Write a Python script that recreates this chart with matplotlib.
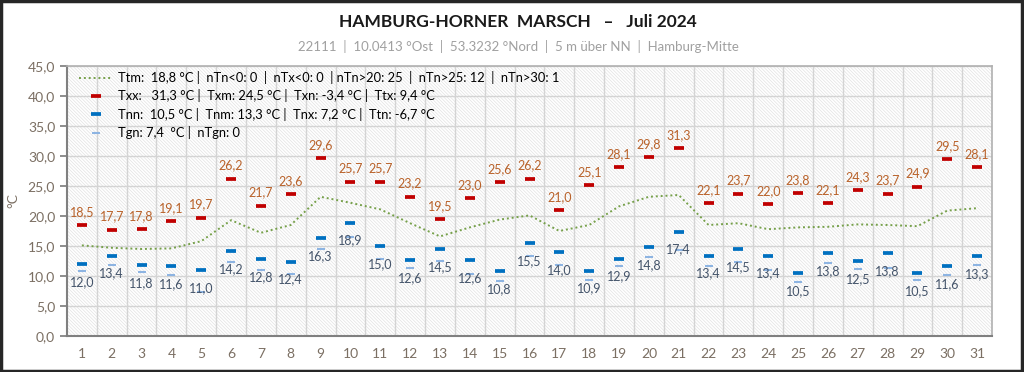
import matplotlib.pyplot as plt
from matplotlib.patches import Rectangle
from matplotlib.lines import Line2D

plt.rcParams["font.family"] = ["Lato", "DejaVu Sans"]
plt.rcParams["hatch.color"] = "#e2e2e2"
plt.rcParams["hatch.linewidth"] = 0.5

days = list(range(1, 32))
tx = [18.5, 17.7, 17.8, 19.1, 19.7, 26.2, 21.7, 23.6, 29.6, 25.7, 25.7, 23.2, 19.5, 23.0, 25.6, 26.2,
      21.0, 25.1, 28.1, 29.8, 31.3, 22.1, 23.7, 22.0, 23.8, 22.1, 24.3, 23.7, 24.9, 29.5, 28.1]
tn = [12.0, 13.4, 11.8, 11.6, 11.0, 14.2, 12.8, 12.4, 16.3, 18.9, 15.0, 12.6, 14.5, 12.6, 10.8, 15.5,
      14.0, 10.9, 12.9, 14.8, 17.4, 13.4, 14.5, 13.4, 10.5, 13.8, 12.5, 13.8, 10.5, 11.6, 13.3]
tgn = [10.8, 11.8, 10.7, 10.1, 7.4, 12.4, 11.0, 10.4, 14.5, 16.5, 12.8, 11.3, 12.5, 10.4, 9.2, 13.3,
       11.8, 9.4, 11.7, 13.2, 14.3, 11.7, 12.4, 11.0, 9.0, 12.2, 11.2, 11.4, 9.3, 10.2, 11.8]
tm = [15.1, 14.7, 14.5, 14.6, 15.8, 19.3, 17.2, 18.5, 23.2, 22.2, 21.1, 18.8, 16.6, 18.1, 19.4, 20.1,
      17.5, 18.5, 21.6, 23.2, 23.5, 18.5, 18.8, 17.8, 18.1, 18.2, 18.6, 18.5, 18.3, 20.9, 21.3]
yticks = [0, 5, 10, 15, 20, 25, 30, 35, 40, 45]

legend_labels = [
    "Ttm:  18,8 °C |  nTn<0: 0  |  nTx<0: 0  | nTn>20: 25  |  nTn>25: 12  |  nTn>30: 1",
    "Txx:   31,3 °C |  Txm: 24,5 °C |  Txn: -3,4 °C |  Ttx: 9,4 °C",
    "Tnn:  10,5 °C |  Tnm: 13,3 °C |  Tnx: 7,2 °C |  Ttn: -6,7 °C",
    "Tgn: 7,4  °C |  nTgn: 0",
]

fig = plt.figure(figsize=(10.24, 3.72), dpi=100)
ax = fig.add_axes([0.0654, 0.0968, 0.9034, 0.7258])

# hatched background
ax.add_patch(Rectangle((0, 0), 1, 1, transform=ax.transAxes, facecolor="white",
                       hatch="\\" * 10, edgecolor="#e2e2e2", lw=0, zorder=0))

ax.set_xlim(0.5, 31.5)
ax.set_ylim(0, 45)
ax.set_yticks(yticks)
ax.set_yticklabels([f"{v:.1f}".replace(".", ",") for v in yticks])
ax.set_xticks(days)
ax.set_xticks([d + 0.5 for d in days[:-1]], minor=True)
ax.grid(True, axis="y", color="#d4d4d4", lw=1, zorder=1)
ax.grid(True, axis="x", which="minor", color="#d4d4d4", lw=1, zorder=1)
ax.tick_params(axis="y", colors="#7a7a7a", labelcolor="#7b6f63", labelsize=10, length=5, width=1.2)
ax.tick_params(axis="x", which="both", length=0, labelcolor="#7b6f63", labelsize=10, pad=9)
for s in ("left", "bottom"):
    ax.spines[s].set_color("#808080")
    ax.spines[s].set_linewidth(1.5)
for s in ("top", "right"):
    ax.spines[s].set_color("#b0b0b0")
    ax.spines[s].set_linewidth(1.2)
ax.set_ylabel("°C", color="#7b6f63", fontsize=10, labelpad=6)

ax.plot(days, tm, ls=(0, (1, 1.5)), color="#76a04a", lw=1.4, zorder=3)
ax.plot(days, tgn, ls="none", marker="_", ms=5.5, mew=1.5, color="#8db4e2", zorder=4)
ax.plot(days, tn, ls="none", marker="_", ms=6.5, mew=2.7, color="#0070c0", zorder=5)
ax.plot(days, tx, ls="none", marker="_", ms=6.5, mew=2.7, color="#c00000", zorder=5)

for d, v in zip(days, tx):
    ax.annotate(f"{v:.1f}".replace(".", ","), (d, v), xytext=(0, 9.5), textcoords="offset points",
                ha="center", va="center", fontsize=9, color="#b9622a", zorder=6)
for d, v in zip(days, tn):
    ax.annotate(f"{v:.1f}".replace(".", ","), (d, v), xytext=(0, -13), textcoords="offset points",
                ha="center", va="center", fontsize=9, color="#44546a", zorder=6)

handles = [
    Line2D([], [], ls=(0, (1, 1.5)), color="#76a04a", lw=1.4),
    Line2D([], [], ls="none", marker="_", ms=6.5, mew=2.7, color="#c00000"),
    Line2D([], [], ls="none", marker="_", ms=6.5, mew=2.7, color="#0070c0"),
    Line2D([], [], ls="none", marker="_", ms=5.5, mew=1.5, color="#8db4e2"),
]
ax.legend(handles, legend_labels, loc="upper left", bbox_to_anchor=(0.005, 1.01), frameon=False,
          fontsize=9.3, handlelength=2.6, handletextpad=0.4, labelspacing=0.42, borderaxespad=0.2)

fig.text(0.506, 0.941, "HAMBURG-HORNER  MARSCH   –   Juli 2024", ha="center", va="center",
         fontsize=12.5, fontweight="bold", color="#1a1a1a")
fig.text(0.506, 0.876, "22111  |  10.0413 °Ost  |  53.3232 °Nord  |  5 m über NN  |  Hamburg-Mitte",
         ha="center", va="center", fontsize=9.5, color="#a0a0a0")

fig.add_artist(Rectangle((0.001, 0.002), 0.997, 0.995, transform=fig.transFigure, fill=False,
                         edgecolor="#262626", lw=2.5))

fig.savefig("out.png", dpi=100)
